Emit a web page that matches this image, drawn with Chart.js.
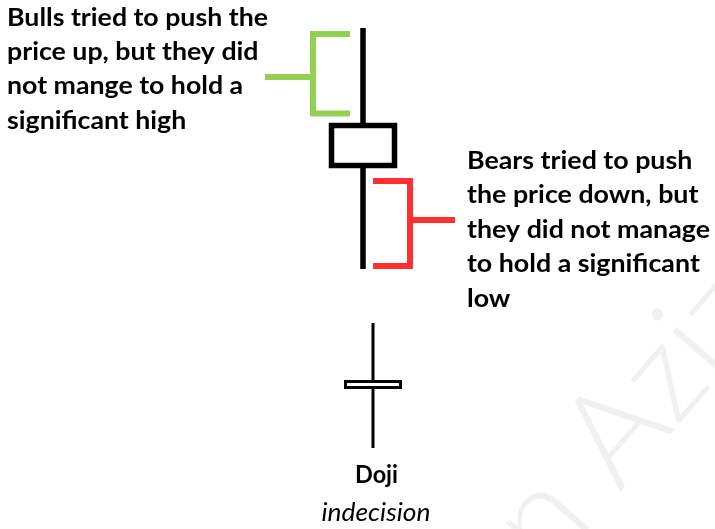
<!DOCTYPE html>
<html><head><meta charset="utf-8">
<script src="https://cdn.jsdelivr.net/npm/chart.js@4"></script>
<style>html,body{margin:0;padding:0;background:#fff;overflow:hidden}canvas{display:block}</style>
</head><body>
<canvas id="c" width="715" height="529"></canvas>
<script>
// Candles (y measured downward, as on the picture): big candle and doji
const candleNames = ['Candle', 'Doji'];
const candleX = [363, 373];
const candleHigh = [28, 323];
const candleBodyTop = [125.5, 381.5];
const candleBodyBottom = [165.5, 387.5];
const candleLow = [269, 448];

// Brackets
const bullBracketX = [350, 313, 313, 350];
const bullBracketY = [34, 34, 113.5, 113.5];
const bullTickX = [265, 313];
const bullTickY = [77, 77];
const bearBracketX = [373, 410, 410, 373];
const bearBracketY = [181, 181, 266, 266];
const bearTickX = [410, 455];
const bearTickY = [220, 220];

// Texts
const bullText = ['Bulls tried to push the', 'price up, but they did', 'not mange to hold a', 'significant high'];
const bearText = ['Bears tried to push', 'the price down, but', 'they did not manage', 'to hold a significant', 'low'];
const dojiTitle = 'Doji';
const dojiSubtitle = 'indecision';
const watermark = 'n Aziz';

// styles (not data)
const bodyHalfWidth = [31.5, 27.5];
const candleLineWidth = [5.5, 3];
const GREEN = '#92d050', RED = '#ff2f2f';
const FAM = 'Lato';

function pts(xs, ys) { return xs.map((x, i) => ({x, y: ys[i]})); }
function seg(style) {
  return Object.assign({showLine: true, pointRadius: 0, pointHoverRadius: 0, tension: 0, fill: false,
    borderCapStyle: 'butt', borderJoinStyle: 'miter'}, style);
}

const datasets = [];
candleX.forEach((cx, i) => {
  const hw = bodyHalfWidth[i], lw = candleLineWidth[i];
  const top = candleBodyTop[i], bot = candleBodyBottom[i];
  datasets.push(seg({label: candleNames[i] + ' upper wick', data: [{x: cx, y: candleHigh[i]}, {x: cx, y: top}], borderColor: '#000', borderWidth: lw}));
  datasets.push(seg({label: candleNames[i] + ' lower wick', data: [{x: cx, y: bot}, {x: cx, y: candleLow[i]}], borderColor: '#000', borderWidth: lw}));
  datasets.push(seg({label: candleNames[i] + ' body', data: [
    {x: cx, y: top}, {x: cx + hw, y: top}, {x: cx + hw, y: bot}, {x: cx - hw, y: bot}, {x: cx - hw, y: top}, {x: cx, y: top}
  ], borderColor: '#000', borderWidth: lw, fill: true, backgroundColor: '#fff'}));
});
datasets.push(seg({label: 'bull bracket', data: pts(bullBracketX, bullBracketY), borderColor: GREEN, borderWidth: 6}));
datasets.push(seg({label: 'bull tick', data: pts(bullTickX, bullTickY), borderColor: GREEN, borderWidth: 6}));
datasets.push(seg({label: 'bear bracket', data: pts(bearBracketX, bearBracketY), borderColor: RED, borderWidth: 6}));
datasets.push(seg({label: 'bear tick', data: pts(bearTickX, bearTickY), borderColor: RED, borderWidth: 6}));

// draw text at given size, squeezed horizontally so that refText spans refWidth
function textBlock(ctx, lines, x, baselines, style, size, refText, refWidth, align) {
  ctx.font = style + ' ' + size + 'px ' + FAM;
  const sx = Math.min(1.15, refWidth / ctx.measureText(refText).width);
  ctx.textAlign = align;
  lines.forEach((t, i) => {
    ctx.save();
    ctx.translate(x, baselines[i]);
    ctx.scale(sx, 1);
    ctx.fillText(t, 0, 0);
    ctx.restore();
  });
}

const textPlugin = {
  id: 'texts',
  beforeDatasetsDraw(chart) {
    const ctx = chart.ctx;
    ctx.save();
    ctx.translate(628, 418);
    ctx.rotate(-49 * Math.PI / 180);
    ctx.font = '300 132px Lato';
    ctx.fillStyle = '#f0f0f0';
    ctx.textAlign = 'center';
    ctx.textBaseline = 'middle';
    ctx.fillText(watermark, 0, 0);
    ctx.restore();
  },
  afterDatasetsDraw(chart) {
    const ctx = chart.ctx;
    ctx.save();
    ctx.fillStyle = '#000';
    ctx.textBaseline = 'alphabetic';
    textBlock(ctx, bullText, 7, [25.5, 60, 94, 128.5], 'bold', 24, bullText[0], 261, 'left');
    textBlock(ctx, bearText, 467, [169, 203, 237.5, 272, 307], 'bold', 24, bearText[2], 243, 'left');
    textBlock(ctx, [dojiTitle], 376.5, [483], 'bold', 25, dojiTitle, 43, 'center');
    textBlock(ctx, [dojiSubtitle], 376, [521], 'italic', 25, dojiSubtitle, 109, 'center');
    ctx.restore();
  }
};

new Chart(document.getElementById('c'), {
  type: 'scatter',
  data: {datasets},
  options: {
    responsive: false, animation: false, devicePixelRatio: 1,
    layout: {padding: 0},
    plugins: {legend: {display: false}, tooltip: {enabled: false}},
    scales: {
      x: {type: 'linear', min: 0, max: 715, display: false},
      y: {type: 'linear', min: 0, max: 529, reverse: true, display: false}
    }
  },
  plugins: [textPlugin]
});
</script>
</body></html>
